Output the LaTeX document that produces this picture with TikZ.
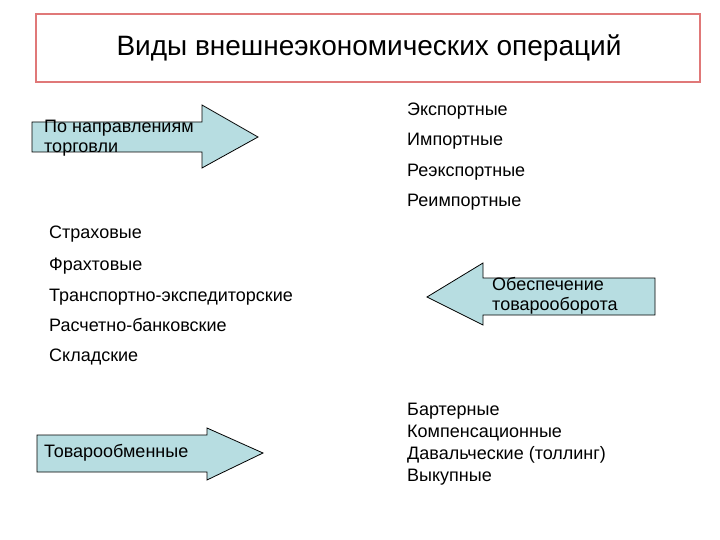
\documentclass[tikz,border=0pt]{standalone}
\usepackage{fontspec}
\setmainfont{Liberation Sans}
\definecolor{arrfill}{HTML}{B7DDE1}
\definecolor{titleframe}{HTML}{E07878}
\begin{document}
\begin{tikzpicture}[x=1pt,y=-1pt,
  shapeline/.style={draw=black, line width=0.8pt, fill=arrfill, line join=miter},
  lbl/.style={anchor=base west, inner sep=0pt, font=\fontsize{18}{21}\selectfont},
  arrtext/.style={anchor=west, inner sep=0pt, align=left, font=\fontsize{18}{20}\selectfont}]
\useasboundingbox (0,0) rectangle (720,540);
% title
\draw[titleframe, line width=1.3pt] (36,14) rectangle (700,82);
\node[inner sep=0pt, font=\fontsize{28}{32}\selectfont] (title) at (369,48) {Виды внешнеэкономических операций};
% arrow 1
\draw[shapeline] (32,122) -- (202,122) -- (202,105) -- (258,137) -- (202,168) -- (202,152) -- (32,152) -- cycle;
\node[arrtext] (a1) at (44,138) {По направлениям\\торговли};
% arrow 2
\draw[shapeline] (655,278) -- (483,278) -- (483,263) -- (427,297) -- (483,325) -- (483,315) -- (655,315) -- cycle;
\node[arrtext] (a2) at (492,296) {Обеспечение\\товарооборота};
% arrow 3
\draw[shapeline] (37,435) -- (207,435) -- (207,428) -- (263,453) -- (207,480) -- (207,472) -- (37,472) -- cycle;
\node[arrtext] (a3) at (44,453) {Товарообменные};
% right top list
\node[lbl] (e1) at (407,116) {Экспортные};
\node[lbl] (e2) at (407,146) {Импортные};
\node[lbl] (e3) at (407,177) {Реэкспортные};
\node[lbl] (e4) at (407,207) {Реимпортные};
% left list
\node[lbl] (s1) at (49,239) {Страховые};
\node[lbl] (s2) at (49,270) {Фрахтовые};
\node[lbl] (s3) at (49,301) {Транспортно-экспедиторские};
\node[lbl] (s4) at (49,331) {Расчетно-банковские};
\node[lbl] (s5) at (49,361) {Складские};
% right bottom list
\node[lbl] (b1) at (407,415) {Бартерные};
\node[lbl] (b2) at (407,437) {Компенсационные};
\node[lbl] (b3) at (407,459) {Давальческие (толлинг)};
\node[lbl] (b4) at (407,481) {Выкупные};
\end{tikzpicture}
\end{document}
